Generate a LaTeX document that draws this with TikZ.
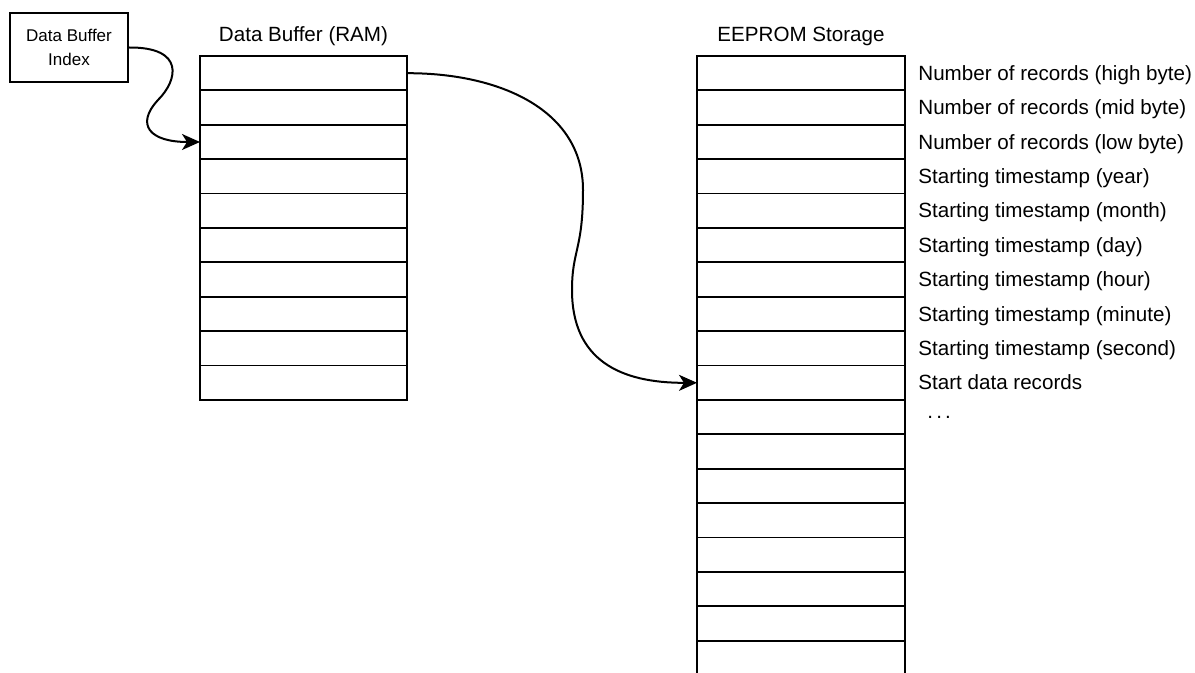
\documentclass[tikz,border=0pt]{standalone}
\usepackage{fontspec}
\setmainfont{Liberation Sans}
\usepackage{tikz}
\usetikzlibrary{arrows.meta,positioning}
\tikzset{
  ramcell/.style ={draw,line width=0.9pt,minimum width=103.5pt,minimum height=17.2pt,inner sep=0pt,outer sep=0pt},
  eepcell/.style ={draw,line width=0.9pt,minimum width=104pt,minimum height=17.2pt,inner sep=0pt,outer sep=0pt},
  idxbox/.style  ={draw,line width=0.9pt,minimum width=59pt,minimum height=34.5pt,align=center,
                   font=\fontsize{8.5pt}{12pt}\selectfont},
  title/.style   ={inner sep=0pt,text height=0.72em,text depth=0pt,font=\fontsize{10.3pt}{12pt}\selectfont},
  fieldlbl/.style={inner sep=0pt,text height=0.72em,text depth=0pt,font=\fontsize{10.3pt}{12pt}\selectfont},
  ptr/.style     ={line width=1pt,-{Stealth[length=9pt,width=8pt,inset=2.5pt]}},
}
\begin{document}
\begin{tikzpicture}[x=0.5pt,y=-0.5pt]
  \useasboundingbox (0,0) rectangle (1195,673);
  \clip (0,0) rectangle (1195,673);
  % index register
  \node[idxbox] (idx) at (69,47.5) {Data Buffer\\Index};
  % buffer in RAM, 10 slots
  \foreach \i in {0,...,9}
    \node[ramcell] (ram\i) at (303.5,73.2+34.4*\i) {};
  \node[title,above=7pt of ram0] (ramttl) {Data Buffer (RAM)};
  % EEPROM, runs off the bottom
  \foreach \i in {0,...,17}
    \node[eepcell] (eep\i) at (801,73.2+34.4*\i) {};
  \node[title,above=7pt of eep0] (eepttl) {EEPROM Storage};
  % field names next to the EEPROM cells
  \foreach \i/\t in {0/Number of records (high byte),1/Number of records (mid byte),
                     2/Number of records (low byte),3/Starting timestamp (year),
                     4/Starting timestamp (month),5/Starting timestamp (day),
                     6/Starting timestamp (hour),7/Starting timestamp (minute),
                     8/Starting timestamp (second),9/Start data records}
    \node[fieldlbl,right=6.5pt of eep\i] (fld\i) {\t};
  \node[font=\fontsize{10.3pt}{12pt}\selectfont,inner sep=0pt,right=11pt of eep10] (more) {.\kern1.6pt.\kern1.6pt.};
  % pointers
  \draw[ptr] (idx.east) .. controls (185,47) and (178,80) .. (158,100)
             .. controls (135,125) and (150,142) .. (ram2.west);
  \draw[ptr] (ram0.east) .. controls (500,73) and (583,110) .. (583,190)
             .. controls (583,250) and (572,250) .. (572,290)
             .. controls (572,360) and (620,383) .. (eep9.west);
\end{tikzpicture}
\end{document}
